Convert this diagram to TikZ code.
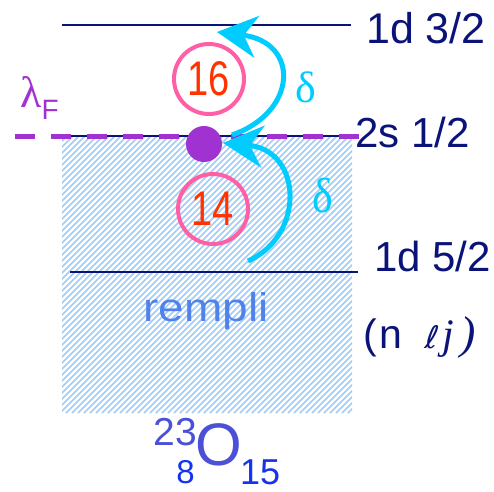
\documentclass[tikz,border=0pt]{standalone}
\usepackage{fontspec}
\usepackage{graphicx}
\setmainfont{Liberation Sans}
\newfontfamily\serifgr{Liberation Serif}
\newfontfamily\ellfont[FakeSlant=0.15]{DejaVu Sans}
\usetikzlibrary{arrows.meta}
\definecolor{navy}{RGB}{10,20,120}
\definecolor{purp}{RGB}{160,50,210}
\definecolor{cyanarr}{RGB}{0,204,255}
\definecolor{pinkc}{RGB}{255,95,165}
\definecolor{numred}{RGB}{255,51,0}
\definecolor{hatchc}{RGB}{160,205,250}
\definecolor{remplic}{RGB}{80,130,235}
\definecolor{isoA}{RGB}{75,80,215}
\definecolor{isoB}{RGB}{20,50,240}
\newcommand{\fs}[1]{\fontsize{#1}{#1}\selectfont}
\tikzset{
  level/.style={draw=navy, line width=2pt},
  lbl/.style={anchor=base west, inner sep=0pt, text=navy},
  fermi/.style={draw=purp, line width=5pt, dash pattern=on 20pt off 16pt},
  hatchline/.style={draw=hatchc, line width=1.6pt},
  cyarrow/.style={draw=cyanarr, line width=5pt, -{Stealth[length=40pt,width=42pt,inset=13pt]}},
  ring/.style={circle, draw=pinkc, line width=4pt, minimum size=70pt, inner sep=0pt, text=numred},
  dl/.style={anchor=base west, inner sep=0pt, text=cyanarr}
}
\begin{document}
\begin{tikzpicture}[x=1pt,y=-1pt]
\useasboundingbox (0,0) rectangle (494,491);
% hatched filled region
\begin{scope}
\clip (62,136) rectangle (352,413);
\foreach \a in {-216,-210,...,354} \draw[hatchline] (\a,413) -- (\a+277,136);
\end{scope}
% levels
\coordinate (l1a) at (62,25); \coordinate (l1b) at (351,25);
\coordinate (l2a) at (62,136); \coordinate (l2b) at (354,136);
\coordinate (l3a) at (70,272); \coordinate (l3b) at (358,272);
\draw[level] (l1a) -- (l1b);
\draw[level] (l2a) -- (l2b);
\draw[level] (l3a) -- (l3b);
\node[lbl, font=\fs{43}] (t1) at (366,43) {1d 3/2};
\node[lbl, font=\fs{42}] (t2) at (355,147) {2s 1/2};
\node[lbl, font=\fs{42}] (t3) at (374,271) {1d 5/2};
\node[lbl, font=\fs{41}] (t4) at (363,348) {(\hspace{3pt}n\hspace{22pt}{\ellfont\fs{31}ℓ}\hspace{5pt}{\serifgr\itshape\fs{42}j\hspace{6pt}\fs{46})}};
% Fermi level
\coordinate (fa) at (15,136); \coordinate (fb) at (359,136);
\draw[fermi] (fa) -- (fb);
\node[anchor=base west, inner sep=0pt, text=purp] (lam) at (20,107) {\serifgr\fs{44}λ\raisebox{-12pt}{\rmfamily\fs{28}F}};
% circles
\node[ring, font=\fs{38}] (c16) at (209,79) {\scalebox{1}[1.28]{16}};
\node[ring, font=\fs{38}] (c14) at (213,209) {\raisebox{-5pt}{\scalebox{1}[1.28]{14}}};
% dot
\node[circle, fill=purp, minimum size=36pt, inner sep=0pt] (dot) at (204,144) {};
% arrows
\coordinate (s1) at (232,135); \coordinate (e1) at (217,32);
\coordinate (s2) at (248,261); \coordinate (e2) at (223,143);
\draw[cyarrow] (s1) .. controls (298,112) and (300,42) .. (e1);
\draw[cyarrow] (s2) .. controls (306,235) and (302,150) .. (e2);
\node[dl, font=\serifgr\fs{44}] (d1) at (295,102) {δ};
\node[dl, font=\serifgr\fs{44}] (d2) at (312,212) {\scalebox{1}[1.12]{δ}};
% rempli
\node[anchor=base, inner sep=0pt, text=remplic, font=\fs{40}] (rem) at (206,321) {\scalebox{1.15}[1]{rempli}};
% isotope
\node[anchor=base west, inner sep=0pt, text=isoA, font=\fs{60}] (O) at (195,465) {O};
\node[anchor=base east, inner sep=0pt, text=isoA, font=\fs{39}] (A) at (197,445) {23};
\node[anchor=base east, inner sep=0pt, text=isoB, font=\fs{33}] (Z) at (195,483) {8};
\node[anchor=base west, inner sep=0pt, text=isoB, font=\fs{36}] (N) at (240,484) {15};
\end{tikzpicture}
\end{document}
